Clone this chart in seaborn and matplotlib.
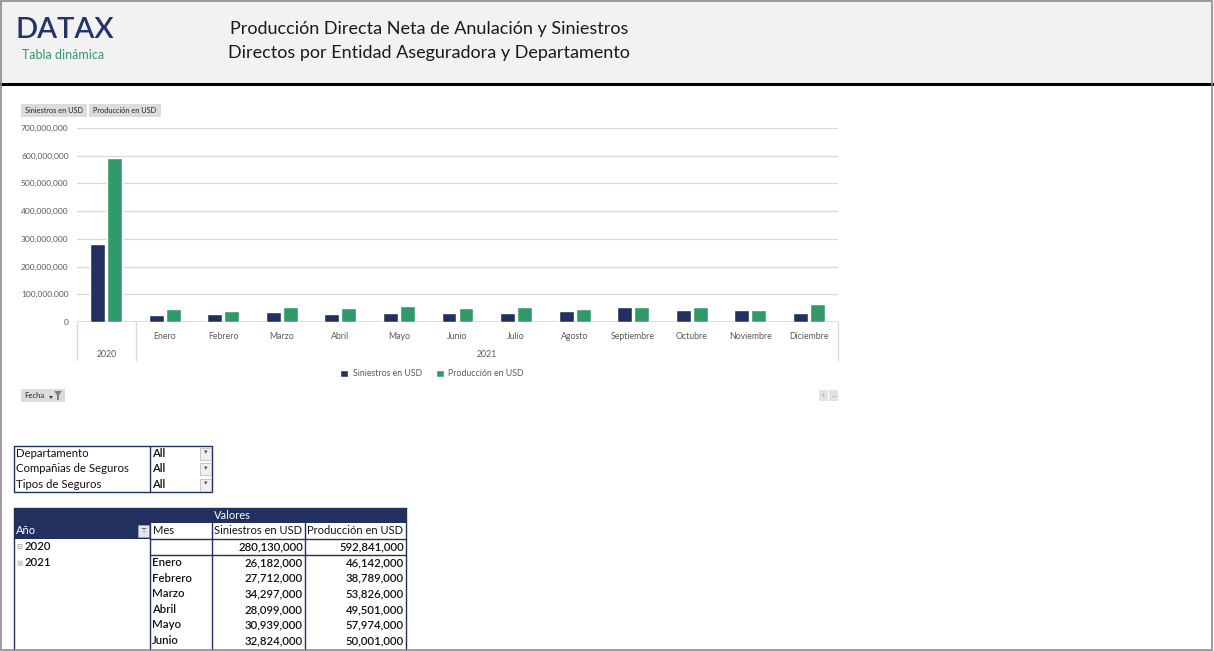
import matplotlib
matplotlib.use('Agg')
import matplotlib.pyplot as plt
import matplotlib.patches as mpatches
import matplotlib.transforms as mtransforms
from matplotlib.lines import Line2D
from matplotlib.ticker import FuncFormatter
import seaborn as sns
import pandas as pd

# datos del grafico (2020 total, 2021 por mes)
periodos = ['2020', 'Enero', 'Febrero', 'Marzo', 'Abril', 'Mayo', 'Junio',
            'Julio', 'Agosto', 'Septiembre', 'Octubre', 'Noviembre', 'Diciembre']
siniestros = [280130000, 26182000, 27712000, 34297000, 28099000, 30939000, 32824000,
              31000000, 41000000, 53000000, 42000000, 45000000, 34000000]
produccion = [592841000, 46142000, 38789000, 53826000, 49501000, 57974000, 50001000,
              53000000, 48000000, 53000000, 53000000, 45000000, 64000000]
series = ['Siniestros en USD', 'Producción en USD']
yticks = [0, 100e6, 200e6, 300e6, 400e6, 500e6, 600e6, 700e6]

# filtros y tabla
filtros = ['Departamento', 'Compañias de Seguros', 'Tipos de Seguros']
filtro_valor = ['All', 'All', 'All']
tabla_anio = ['2020', '2021', '', '', '', '', '']
tabla_mes = ['', 'Enero', 'Febrero', 'Marzo', 'Abril', 'Mayo', 'Junio']
tabla_sin = siniestros[:7]
tabla_prod = produccion[:7]

NAVY = '#21305f'
GREEN = '#319a6b'
GRID = '#d9d9d9'
TXT = '#595959'

W, H = 1214, 651

sns.set_theme(style='white')
plt.rcParams['font.family'] = ['Lato', 'DejaVu Sans']


def fx(x):
    return x / W


def fy(y):
    return 1 - y / H


fig = plt.figure(figsize=(W / 100, H / 100), dpi=100)


def rect(x, y, w, h, fc='none', ec='none', lw=1.0, z=1):
    fig.patches.append(mpatches.Rectangle((fx(x), fy(y + h)), w / W, h / H, transform=fig.transFigure,
                                          facecolor=fc, edgecolor=ec, linewidth=lw, zorder=z))


def line(x0, y0, x1, y1, c=NAVY, lw=1.0, z=3):
    fig.lines.append(Line2D([fx(x0), fx(x1)], [fy(y0), fy(y1)], transform=fig.transFigure,
                            color=c, linewidth=lw, zorder=z))


def text(x, y, s, **kw):
    kw.setdefault('va', 'center')
    fig.text(fx(x), fy(y), s, **kw)


# encabezado
rect(0, 0, W, 83, fc='#f2f2f2')
line(0, 84, W, 84, c='black', lw=2.2)
text(15, 30, 'DATAX', fontsize=21, color='#253467', fontweight='semibold')
text(22, 55, 'Tabla dinámica', fontsize=9, color=GREEN)
text(429, 29, 'Producción Directa Neta de Anulación y Siniestros', fontsize=13, color='#1a1a1a', ha='center')
text(429, 53, 'Directos por Entidad Aseguradora y Departamento', fontsize=13, color='#1a1a1a', ha='center')

# botones del grafico dinamico
rect(21, 104, 66, 13, fc='#dcdcdc')
rect(89, 104, 72, 13, fc='#dcdcdc')
text(54, 110.5, series[0], fontsize=5.3, color='#262626', ha='center')
text(125, 110.5, series[1], fontsize=5.3, color='#262626', ha='center')
rect(21, 389, 44, 13, fc='#dcdcdc')
text(24, 395.5, 'Fecha', fontsize=5.5, color='#262626')
fig.patches.append(mpatches.Polygon([[fx(49), fy(396)], [fx(53), fy(396)], [fx(51), fy(399)]],
                                    closed=True, transform=fig.transFigure, fc='#404040', ec='none'))
fig.patches.append(mpatches.Polygon([[fx(54), fy(391)], [fx(62), fy(391)], [fx(59), fy(395)],
                                     [fx(59), fy(400)], [fx(57), fy(400)], [fx(57), fy(395)]],
                                    closed=True, transform=fig.transFigure, fc='#7f7f7f', ec='none'))
rect(819, 390, 9, 11, fc='#e3e3e3')
rect(829, 390, 9, 11, fc='#e3e3e3')
text(823.5, 395.5, '+', fontsize=6, color='#a6a6a6', ha='center')
text(833.5, 395.5, '−', fontsize=6, color='#a6a6a6', ha='center')

# grafico
ax = fig.add_axes([fx(77), fy(322), (838 - 77) / W, (322 - 128) / H])
df = pd.DataFrame({'periodo': periodos * 2,
                   'valor': siniestros + produccion,
                   'serie': [series[0]] * len(periodos) + [series[1]] * len(periodos)})
sns.barplot(data=df, x='periodo', y='valor', hue='serie', palette=[NAVY, GREEN],
            width=0.58, gap=0.12, ax=ax, saturation=1)
ax.set_xlim(-0.5, len(periodos) - 0.5)
ax.set_ylim(0, 700e6)
ax.set_yticks(yticks)
ax.yaxis.set_major_formatter(FuncFormatter(lambda v, p: f'{v:,.0f}'))
ax.yaxis.grid(True, color=GRID, linewidth=0.9)
ax.set_axisbelow(True)
for s in ax.spines.values():
    s.set_visible(False)
ax.axhline(0, color=GRID, linewidth=1.2, zorder=0.5)
ax.set_xlabel('')
ax.set_ylabel('')
ax.set_xticks(range(len(periodos)))
ax.set_xticklabels([''] + periodos[1:])
ax.tick_params(axis='x', length=0, pad=7, labelsize=6.3, labelcolor=TXT)
ax.tick_params(axis='y', length=0, pad=6, labelsize=6, labelcolor=TXT)
trans = mtransforms.blended_transform_factory(ax.transData, ax.transAxes)
for xs in [-0.5, 0.5, len(periodos) - 0.5]:
    ax.plot([xs, xs], [0, -0.196], transform=trans, color=GRID, linewidth=1, clip_on=False)
ax.text(0, -0.165, '2020', transform=trans, ha='center', va='center', fontsize=6.3, color=TXT)
ax.text((1 + len(periodos) - 1) / 2, -0.165, '2021', transform=trans, ha='center', va='center',
        fontsize=6.3, color=TXT)
sns.move_legend(ax, 'center', bbox_to_anchor=((432 - 77) / 761, (322 - 374) / 194), ncol=2,
                frameon=False, title=None, fontsize=6.3, handlelength=0.9, handleheight=0.9,
                columnspacing=1.6, handletextpad=0.5, labelcolor=TXT)

# filtros
rect(14, 446, 198, 46, ec=NAVY, lw=1)
line(150, 446, 150, 492)
for i, (f, v) in enumerate(zip(filtros, filtro_valor)):
    yc = 453.5 + i * 15.5
    text(16, yc, f, fontsize=8.2, color='#111111')
    text(152, yc, v, fontsize=8.2, color='#111111', fontweight='semibold')
    rect(200, yc - 6, 11, 12, fc='#f0f0f0', ec='#bfbfbf', lw=0.6)
    text(205.5, yc - 1, '▾', fontsize=5, color='#595959', ha='center', family=['DejaVu Sans'])

# tabla dinamica
rect(14, 508, 392, 15, fc=NAVY)
text(214, 515.5, 'Valores', fontsize=8, color='white')
rect(14, 523, 136, 16, fc=NAVY)
text(16, 531, 'Año', fontsize=8, color='white')
rect(138, 525, 11, 12, fc='#e6e6e6', ec='#a6a6a6', lw=0.5)
text(143.5, 531, '⊤', fontsize=5, color='#404040', ha='center', family=['DejaVu Sans'])
line(14, 508, 14, 651)
line(406, 508, 406, 651)
line(14, 508, 406, 508)
line(150, 523, 150, 651)
line(212, 523, 212, 651)
line(305, 523, 305, 651)
line(150, 539, 406, 539)
line(150, 555, 406, 555)
text(153, 531, 'Mes', fontsize=8, color='#111111')
text(214, 531, series[0], fontsize=8, color='#111111')
text(307, 531, series[1], fontsize=8, color='#111111')
for i in range(len(tabla_mes)):
    yc = 547 + i * 15.6
    if tabla_anio[i]:
        mark = '⊟' if i == 0 else '■'
        text(16, yc, mark, fontsize=5, color='#8a8fa8' if i == 0 else '#d0d0d0', family=['DejaVu Sans'])
        text(25, yc, tabla_anio[i], fontsize=8.2, color='#111111', fontweight='semibold')
    text(152, yc, tabla_mes[i], fontsize=8.2, color='#111111', fontweight='semibold')
    text(303, yc, f'{tabla_sin[i]:,}', fontsize=8.2, color='#111111', ha='right', fontweight='semibold')
    text(404, yc, f'{tabla_prod[i]:,}', fontsize=8.2, color='#111111', ha='right', fontweight='semibold')

# marco
rect(0.5, 0.5, W - 3, H - 2, ec='#8c8c8c', lw=1.2, z=10)

fig.savefig('out.png', dpi=100)
